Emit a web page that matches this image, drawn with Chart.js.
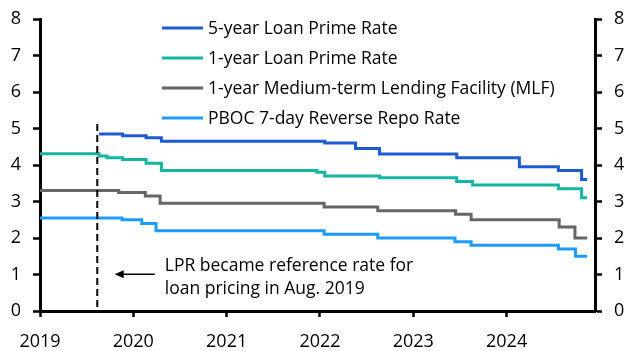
<!DOCTYPE html>
<html>
<head>
<meta charset="utf-8">
<script src="https://cdn.jsdelivr.net/npm/chart.js@4.4.1/dist/chart.umd.min.js"></script>
<style>
  html, body { margin: 0; padding: 0; background: #fff; }
  #wrap { width: 629px; height: 351px; position: relative; }
</style>
</head>
<body>
<div id="wrap"><canvas id="chart"></canvas></div>
<script>
const FONT = 'Open Sans';

// series: date each rate took effect, and the new rate (%)
const lpr5Dates   = ['2019-08-20', '2019-11-20', '2020-02-20', '2020-04-20', '2022-01-20', '2022-05-20', '2022-08-22', '2023-06-20', '2024-02-20', '2024-07-22', '2024-10-21'];
const lpr5Values  = [4.85, 4.80, 4.75, 4.65, 4.60, 4.45, 4.30, 4.20, 3.95, 3.85, 3.60];

const lpr1Dates   = ['2019-01-01', '2019-08-20', '2019-09-20', '2019-11-20', '2020-02-20', '2020-04-20', '2021-12-20', '2022-01-20', '2022-08-22', '2023-06-20', '2023-08-21', '2024-07-22', '2024-10-21'];
const lpr1Values  = [4.31, 4.25, 4.20, 4.15, 4.05, 3.85, 3.80, 3.70, 3.65, 3.55, 3.45, 3.35, 3.10];

const mlfDates    = ['2019-01-01', '2019-11-05', '2020-02-17', '2020-04-15', '2022-01-17', '2022-08-15', '2023-06-15', '2023-08-15', '2024-07-25', '2024-09-25'];
const mlfValues   = [3.30, 3.25, 3.15, 2.95, 2.85, 2.75, 2.65, 2.50, 2.30, 2.00];

const repoDates   = ['2019-01-01', '2019-11-18', '2020-02-03', '2020-03-30', '2022-01-17', '2022-08-15', '2023-06-13', '2023-08-15', '2024-07-22', '2024-09-27'];
const repoValues  = [2.55, 2.50, 2.40, 2.20, 2.10, 2.00, 1.90, 1.80, 1.70, 1.50];

const seriesLabels = [
    '5-year Loan Prime Rate',
    '1-year Loan Prime Rate',
    '1-year Medium-term Lending Facility (MLF)',
    'PBOC 7-day Reverse Repo Rate'
];
const seriesColors = ['#1e5ad2', '#14b6a2', '#666666', '#1e9bff'];

const lastDate = '2024-11-12';
const xTickYears = [2019, 2020, 2021, 2022, 2023, 2024];
const yTicks = [0, 1, 2, 3, 4, 5, 6, 7, 8];

const noteLines = ['LPR became reference rate for', 'loan pricing in Aug. 2019'];
const noteDate = '2019-08-13';

function toYear(s) {
    const [y, m, d] = s.split('-').map(Number);
    const start = Date.UTC(y, 0, 1);
    const end = Date.UTC(y + 1, 0, 1);
    return y + (Date.UTC(y, m - 1, d) - start) / (end - start);
}

function buildPoints(dates, values) {
    const pts = dates.map((d, i) => ({ x: toYear(d), y: values[i] }));
    pts.push({ x: toYear(lastDate), y: values[values.length - 1] });
    return pts;
}

const allSeries = [
    buildPoints(lpr5Dates, lpr5Values),
    buildPoints(lpr1Dates, lpr1Values),
    buildPoints(mlfDates, mlfValues),
    buildPoints(repoDates, repoValues)
];

// legend drawn inside the plot area, top middle
const insideLegend = {
    id: 'insideLegend',
    afterDatasetsDraw(chart) {
        const { ctx, chartArea } = chart;
        ctx.save();
        ctx.font = `17.5px "${FONT}"`;
        ctx.textBaseline = 'middle';
        ctx.fillStyle = '#000';
        seriesLabels.forEach((label, i) => {
            const y = chartArea.top + 9 + i * 30;
            const x0 = chartArea.left + 122;
            ctx.strokeStyle = seriesColors[i];
            ctx.lineWidth = 3;
            ctx.beginPath();
            ctx.moveTo(x0, y);
            ctx.lineTo(x0 + 41, y);
            ctx.stroke();
            ctx.fillText(label, x0 + 46, y + 1);
        });
        ctx.restore();
    }
};

// dashed marker + arrow + note
const noteLayer = {
    id: 'noteLayer',
    afterDatasetsDraw(chart) {
        const { ctx } = chart;
        const xs = chart.scales.x, ys = chart.scales.y;
        const mx = xs.getPixelForValue(toYear(noteDate));
        ctx.save();
        ctx.strokeStyle = '#000';
        ctx.lineWidth = 2;
        ctx.setLineDash([7, 4]);
        ctx.beginPath();
        ctx.moveTo(mx, ys.getPixelForValue(5.12));
        ctx.lineTo(mx, ys.getPixelForValue(0));
        ctx.stroke();
        ctx.setLineDash([]);

        const ay = ys.getPixelForValue(1.01);
        const ax0 = xs.getPixelForValue(2020.23);
        const ax1 = xs.getPixelForValue(2019.80);
        ctx.lineWidth = 1.5;
        ctx.beginPath();
        ctx.moveTo(ax0, ay);
        ctx.lineTo(ax1 + 6, ay);
        ctx.stroke();
        ctx.fillStyle = '#000';
        ctx.beginPath();
        ctx.moveTo(ax1, ay);
        ctx.lineTo(ax1 + 9, ay - 4);
        ctx.lineTo(ax1 + 9, ay + 4);
        ctx.closePath();
        ctx.fill();

        ctx.font = `17.5px "${FONT}"`;
        ctx.textBaseline = 'middle';
        const tx = xs.getPixelForValue(2020.337);
        ctx.fillText(noteLines[0], tx, ys.getPixelForValue(1.23));
        ctx.fillText(noteLines[1], tx, ys.getPixelForValue(0.60));
        ctx.restore();
    }
};

const tickFont = { family: FONT, size: 18 };
// small lineHeight keeps the vertical axes from pushing the plot top down
const yTickFont = { family: FONT, size: 18, lineHeight: 0.4 };
const axisGrid = { display: true, drawOnChartArea: false, drawTicks: true, tickLength: 7, tickColor: '#000', tickWidth: 2.5 };
const axisBorder = { display: true, color: '#000', width: 3 };

new Chart(document.getElementById('chart'), {
    type: 'line',
    data: {
        datasets: allSeries.map((pts, i) => ({
            label: seriesLabels[i],
            data: pts,
            borderColor: seriesColors[i],
            backgroundColor: seriesColors[i],
            borderWidth: 3,
            pointRadius: 0,
            stepped: true,
            fill: false,
            yAxisID: 'y'
        }))
    },
    options: {
        responsive: true,
        maintainAspectRatio: false,
        animation: false,
        layout: { padding: { top: 19, left: 0, right: 0, bottom: 0 } },
        plugins: {
            legend: { display: false },
            tooltip: { enabled: false }
        },
        scales: {
            x: {
                type: 'linear',
                min: 2019,
                max: 2024.947,
                afterBuildTicks: s => { s.ticks = xTickYears.map(v => ({ value: v })); },
                afterFit: s => { s.height = 40; },
                grid: { ...axisGrid, tickLength: 6 },
                border: axisBorder,
                ticks: {
                    color: '#000',
                    font: tickFont,
                    padding: 14,
                    maxRotation: 0,
                    callback: v => String(v)
                }
            },
            y: {
                position: 'left',
                min: 0,
                max: 8,
                afterBuildTicks: s => { s.ticks = yTicks.map(v => ({ value: v })); },
                afterFit: s => { s.width = 40; },
                grid: axisGrid,
                border: axisBorder,
                ticks: { color: '#000', font: yTickFont, padding: 12 }
            },
            y2: {
                position: 'right',
                min: 0,
                max: 8,
                afterBuildTicks: s => { s.ticks = yTicks.map(v => ({ value: v })); },
                afterFit: s => { s.width = 34; },
                grid: axisGrid,
                border: axisBorder,
                ticks: { color: '#000', font: yTickFont, padding: 12 }
            }
        }
    },
    plugins: [insideLegend, noteLayer]
});
</script>
</body>
</html>
